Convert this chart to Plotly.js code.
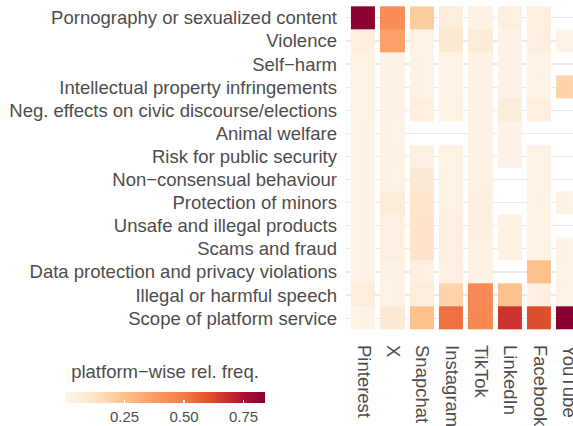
<!DOCTYPE html>
<html>
<head>
<meta charset="utf-8">
<script src="https://cdn.plot.ly/plotly-3.0.1.min.js"></script>
<style>html,body{margin:0;padding:0;background:#fff;}#chart{width:573px;height:426px;}</style>
</head>
<body>
<div id="chart"></div>
<script>
const platforms = ["Pinterest", "X", "Snapchat", "Instagram", "TikTok", "LinkedIn", "Facebook", "YouTube"];
const categories = [
  "Pornography or sexualized content",
  "Violence",
  "Self−harm",
  "Intellectual property infringements",
  "Neg. effects on civic discourse/elections",
  "Animal welfare",
  "Risk for public security",
  "Non−consensual behaviour",
  "Protection of minors",
  "Unsafe and illegal products",
  "Scams and fraud",
  "Data protection and privacy violations",
  "Illegal or harmful speech",
  "Scope of platform service"
];
// rows follow categories, columns follow platforms (null = no data)
const pornography   = [0.83, 0.43, 0.21, 0.06, 0.02, 0.04, 0.05, null];
const violence      = [0.05, 0.36, 0.03, 0.10, 0.07, 0.02, 0.04, 0.02];
const selfHarm      = [0.03, 0.02, 0.02, 0.02, 0.02, 0.02, 0.02, null];
const ipInfringe    = [0.03, 0.02, 0.02, 0.02, 0.02, 0.02, 0.02, 0.18];
const civic         = [0.03, 0.02, 0.05, 0.03, 0.02, 0.06, 0.05, null];
const animal        = [0.02, 0.02, null, null, 0.02, 0.02, null, null];
const publicSec     = [0.02, 0.02, 0.04, 0.03, 0.02, 0.02, 0.03, null];
const nonConsensual = [0.02, 0.03, 0.08, 0.03, 0.03, null, 0.03, null];
const minors        = [0.02, 0.07, 0.11, 0.03, 0.04, null, 0.02, 0.03];
const unsafe        = [0.02, 0.04, 0.12, 0.04, 0.04, 0.03, 0.02, null];
const scams         = [0.02, 0.04, 0.12, 0.04, 0.03, 0.03, 0.03, 0.02];
const dataProt      = [0.02, 0.03, 0.04, 0.04, 0.03, null, 0.25, 0.02];
const speech        = [0.06, 0.03, 0.06, 0.18, 0.44, 0.25, 0.04, 0.02];
const scope         = [0.02, 0.08, 0.25, 0.53, 0.45, 0.67, 0.61, 0.84];
const colorTicks = [0.25, 0.50, 0.75];
const colorTickText = ["0.25", "0.50", "0.75"];

const z = [pornography, violence, selfHarm, ipInfringe, civic, animal, publicSec,
           nonConsensual, minors, unsafe, scams, dataProt, speech, scope];

const colorscale = [
  [0.00, "#fef6ec"],
  [0.14, "#fde5cb"],
  [0.30, "#fdc08b"],
  [0.44, "#fc9d66"],
  [0.595, "#f47b46"],
  [0.71, "#e2552f"],
  [0.80, "#cc312d"],
  [0.89, "#ad1232"],
  [1.00, "#8a0033"]
];
const txt = "#4d4d4d";
const font = "Liberation Sans, Arial, sans-serif";

const trace = {
  type: "heatmap",
  x: platforms,
  y: categories,
  z: z,
  zmin: 0,
  zmax: 0.84,
  colorscale: colorscale,
  xgap: 5,
  ygap: 0,
  hoverongaps: false,
  colorbar: {
    orientation: "h",
    xref: "paper", yref: "paper",
    x: -1.2379, xanchor: "left",
    y: -0.292, yanchor: "bottom",
    len: 200, lenmode: "pixels",
    thickness: 11, thicknessmode: "pixels",
    xpad: 0, ypad: 0,
    outlinewidth: 0,
    tickvals: colorTicks,
    ticktext: colorTickText,
    ticks: "inside", ticklen: 3, tickcolor: "#ffffff", tickwidth: 1.5,
    tickfont: {size: 15, color: txt, family: font},
    title: {text: "platform−wise rel. freq.", side: "top", font: {size: 18.5, color: txt, family: font}}
  }
};

const layout = {
  width: 573, height: 426,
  margin: {l: 346, r: 0, t: 4, b: 94, autoexpand: false},
  paper_bgcolor: "#ffffff",
  plot_bgcolor: "#ffffff",
  font: {family: font, color: txt},
  xaxis: {
    type: "category",
    range: [-0.6, 7.14],
    tickangle: 90,
    showgrid: false, zeroline: false, ticks: "",
    ticklabelstandoff: 12,
    tickfont: {size: 18.5, color: txt, family: font}
  },
  yaxis: {
    type: "category",
    range: [13.6, -0.6],
    showgrid: true, gridcolor: "#ebebeb", gridwidth: 1.2,
    zeroline: false, ticks: "",
    ticklabelstandoff: 8,
    tickfont: {size: 18.5, color: txt, family: font}
  }
};

Plotly.newPlot("chart", [trace], layout, {staticPlot: true, displayModeBar: false});
</script>
</body>
</html>
